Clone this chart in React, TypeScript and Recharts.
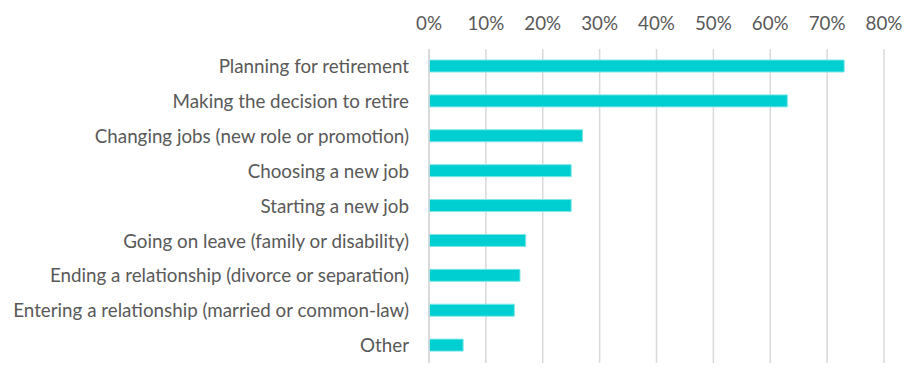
import { BarChart, Bar, XAxis, YAxis, CartesianGrid } from "recharts";

const categories = [
  "Planning for retirement",
  "Making the decision to retire",
  "Changing jobs (new role or promotion)",
  "Choosing a new job",
  "Starting a new job",
  "Going on leave (family or disability)",
  "Ending a relationship (divorce or separation)",
  "Entering a relationship (married or common-law)",
  "Other",
];
const shares = [0.73, 0.63, 0.27, 0.25, 0.25, 0.17, 0.16, 0.15, 0.06];
const xTicks = [0, 0.1, 0.2, 0.3, 0.4, 0.5, 0.6, 0.7, 0.8];

const data = categories.map((name, i) => ({ name, value: shares[i] }));

const font = "Lato, 'Open Sans', sans-serif";

export default function App() {
  return (
    <div style={{ position: "absolute", left: 0, top: 0, background: "#fff" }}>
      <BarChart
        width={921}
        height={385}
        layout="vertical"
        data={data}
        margin={{ top: 19, right: 37, left: 0, bottom: 22 }}
        barCategoryGap={0}
      >
        <CartesianGrid horizontal={false} stroke="#D9D9D9" strokeWidth={1.5} />
        <XAxis
          type="number"
          orientation="top"
          domain={[0, 0.8]}
          ticks={xTicks}
          tickFormatter={(v: number) => `${Math.round(v * 100)}%`}
          axisLine={false}
          tickLine={false}
          tickSize={0}
          tickMargin={19}
          height={30}
          tick={{ fontSize: 18.8, fill: "#595959", fontFamily: font }}
        />
        <YAxis
          type="category"
          dataKey="name"
          width={429}
          axisLine={{ stroke: "#D9D9D9", strokeWidth: 1.5 }}
          tickLine={false}
          tickSize={0}
          tickMargin={20}
          interval={0}
          tick={{ fontSize: 18.8, fill: "#595959", fontFamily: font }}
        />
        <Bar
          dataKey="value"
          fill="#00CFD1"
          stroke="#7FE6E8"
          strokeWidth={1}
          barSize={12}
          isAnimationActive={false}
        />
      </BarChart>
    </div>
  );
}
